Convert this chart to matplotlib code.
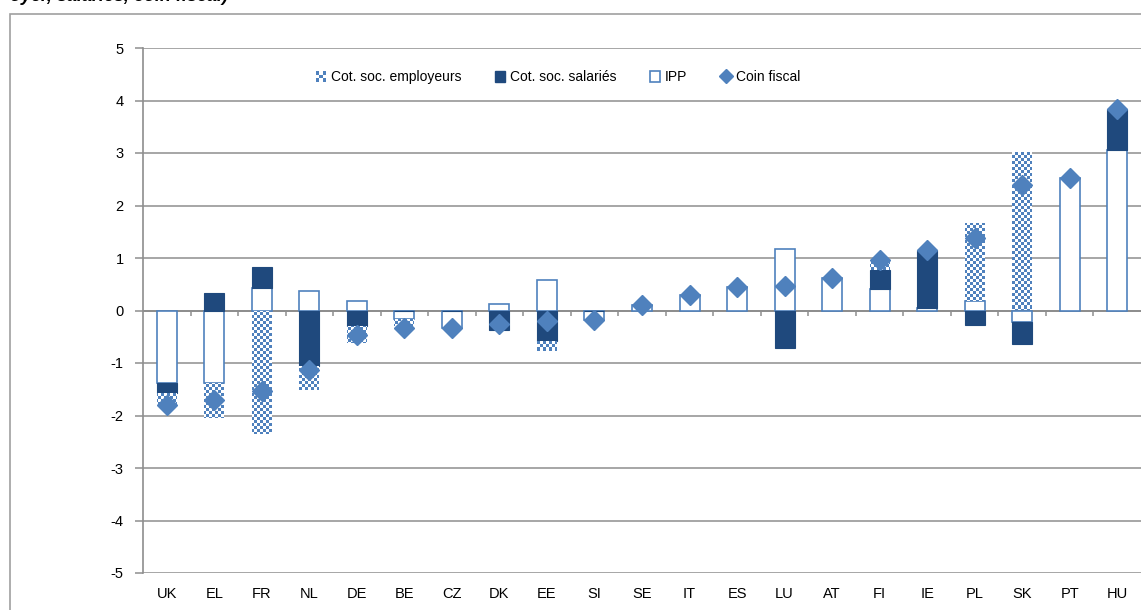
import numpy as np
import matplotlib
matplotlib.use("Agg")
import matplotlib.pyplot as plt
from matplotlib.colors import ListedColormap
from matplotlib.patches import Patch, Rectangle
from matplotlib.lines import Line2D
from matplotlib.legend_handler import HandlerBase

# ---------------------------------------------------------
# DATA
# ---------------------------------------------------------
countries = ['UK', 'EL', 'FR', 'NL', 'DE', 'BE', 'CZ', 'DK', 'EE', 'SI', 'SE',
             'IT', 'ES', 'LU', 'AT', 'FI', 'IE', 'PL', 'SK', 'PT', 'HU']
ipp = [-1.38, -1.38, 0.43, 0.38, 0.18, -0.17, -0.33, 0.13, 0.59, -0.18, 0.10,
       0.30, 0.45, 1.17, 0.62, 0.41, 0.04, 0.18, -0.22, 2.52, 3.05]
cot_salaries = [-0.20, 0.34, 0.40, -1.05, -0.30, 0.0, 0.0, -0.38, -0.58, 0.0, 0.0,
                0.0, 0.0, -0.71, 0.0, 0.36, 1.12, -0.27, -0.41, 0.0, 0.78]
cot_employeurs = [-0.22, -0.66, -2.36, -0.47, -0.32, -0.12, 0.0, 0.0, -0.20, 0.0, 0.0,
                  0.0, 0.0, 0.0, 0.0, 0.20, 0.0, 1.48, 3.02, 0.0, 0.0]
coin_fiscal = [-1.80, -1.70, -1.53, -1.14, -0.46, -0.33, -0.33, -0.25, -0.20, -0.18, 0.10,
               0.30, 0.45, 0.46, 0.62, 0.97, 1.16, 1.39, 2.39, 2.52, 3.83]

# ---------------------------------------------------------
# STYLE
# ---------------------------------------------------------
FONT = 'Liberation Sans'
BLUE = '#4F81BD'
NAVY = '#1F497D'
GRID = '#8E8E8E'
plt.rcParams['font.family'] = [FONT, 'DejaVu Sans']
plt.rcParams['axes.unicode_minus'] = False

W, H = 1141, 610
fig = plt.figure(figsize=(W / 100, H / 100), dpi=100)

# outer chart border (Excel chart area)
fig.patches.append(Rectangle((10 / W, -0.1), 1.2, 1 - 14 / H + 0.1, transform=fig.transFigure,
                             fill=False, edgecolor='#A0A0A0', lw=1.2))
# title, cut off at the top of the picture (as in the reference)
fig.text(10 / W, 1 - 1 / H, "oyer, salariés, coin fiscal)", fontsize=13,
         fontweight='bold', fontstyle='italic', va='baseline', ha='left')

left, right, top, bottom = 143, 1141, 48, 573
ax = fig.add_axes([left / W, (H - bottom) / H, (right - left) / W, (bottom - top) / H])

x = np.arange(len(countries))
width = 0.42

ipp_a = np.array(ipp)
sal_a = np.array(cot_salaries)
emp_a = np.array(cot_employeurs)

# stack positive and negative parts separately (IPP -> salariés -> employeurs)
pos_base = np.zeros(len(x))
neg_base = np.zeros(len(x))

def stacked(vals):
    global pos_base, neg_base
    base = np.where(vals >= 0, pos_base, neg_base)
    pos_base = pos_base + np.clip(vals, 0, None)
    neg_base = neg_base + np.clip(vals, None, 0)
    return base

b_ipp = stacked(ipp_a)
b_sal = stacked(sal_a)
b_emp = stacked(emp_a)

ax.bar(x, ipp_a, width, bottom=b_ipp, facecolor='white', edgecolor=BLUE, lw=1.2, zorder=3)
ax.bar(x, sal_a, width, bottom=b_sal, facecolor=NAVY, edgecolor=NAVY, lw=0.8, zorder=3)
emp_bars = ax.bar(x, emp_a, width, bottom=b_emp, facecolor='none', edgecolor='none', zorder=3)

ax.set_xlim(-0.5, len(x) - 0.5)
ax.set_ylim(-5, 5)

# checkerboard fill for employer contributions, clipped to each bar
cell = 3
rows, cols = (bottom - top) // cell, (right - left) // cell
checker = (np.add.outer(np.arange(rows), np.arange(cols)) % 2)
cmap = ListedColormap(['#FFFFFF', BLUE])
for rect, v in zip(emp_bars.patches, emp_a):
    if v == 0:
        continue
    im = ax.imshow(checker, cmap=cmap, interpolation='nearest', aspect='auto',
                   extent=(-0.5, len(x) - 0.5, -5, 5), zorder=3, origin='lower')
    im.set_clip_path(rect)

ax.plot(x, coin_fiscal, linestyle='none', marker='D', markersize=10,
        color=BLUE, markeredgecolor=BLUE, zorder=5)

# axes decoration
for s in ['top', 'right', 'bottom']:
    ax.spines[s].set_visible(False)
ax.spines['left'].set_color(GRID)
ax.spines['left'].set_linewidth(1.2)
ax.set_yticks(np.arange(-5, 6, 1))
ax.yaxis.grid(True, color=GRID, lw=1.1)
ax.set_axisbelow(True)
ax.axhline(0, color=GRID, lw=1.4, zorder=2)
ax.vlines(np.arange(0.5, len(x) - 0.5, 1), -0.11, 0, color=GRID, lw=1.1, zorder=2)
ax.tick_params(axis='y', length=6, color=GRID, width=1.1, pad=8, labelsize=10.5)
ax.set_xticks(x)
ax.set_xticklabels(countries)
ax.tick_params(axis='x', length=0, pad=10, labelsize=10.5)


class CheckerHandler(HandlerBase):
    """Small checkerboard square for the legend."""
    def create_artists(self, legend, orig_handle, xdescent, ydescent, width, height,
                       fontsize, trans):
        n = 3
        s = min(width, height)
        cw = s / n
        arts = []
        for i in range(n):
            for j in range(n):
                c = BLUE if (i + j) % 2 == 0 else '#FFFFFF'
                arts.append(Rectangle((-xdescent + i * cw, -ydescent + j * cw), cw, cw,
                                      facecolor=c, edgecolor='none', transform=trans))
        return arts


emp_handle = Patch(facecolor=BLUE)
handles = [emp_handle,
           Patch(facecolor=NAVY, edgecolor=NAVY),
           Patch(facecolor='white', edgecolor=BLUE, lw=1.2),
           Line2D([], [], linestyle='none', marker='D', markersize=7, color=BLUE)]
labels = ['Cot. soc. employeurs', 'Cot. soc. salariés', 'IPP', 'Coin fiscal']
ax.legend(handles, labels, ncol=4, loc='center', bbox_to_anchor=(0.416, 0.944),
          frameon=False, fontsize=10, handlelength=0.75, handleheight=0.75,
          handletextpad=0.35, columnspacing=2.4,
          handler_map={emp_handle: CheckerHandler()})

fig.savefig('out.png', dpi=100)
